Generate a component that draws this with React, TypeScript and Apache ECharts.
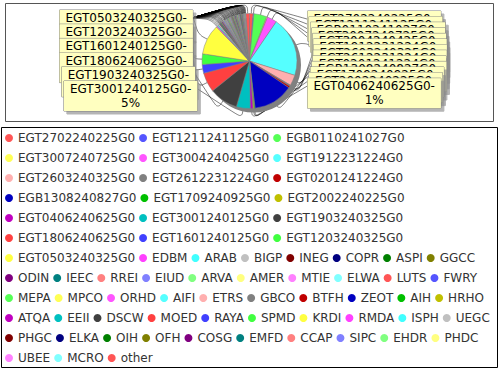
import React, { useEffect, useRef } from "react";
import * as echarts from "echarts";

const FONT = "DejaVu Sans";

const names = [
  "EGT2702240225G0", "EGT1211241125G0", "EGB0110241027G0", "EGT3007240725G0", "EGT3004240425G0",
  "EGT1912231224G0", "EGT2603240325G0", "EGT2612231224G0", "EGT0201241224G0", "EGB1308240827G0",
  "EGT1709240925G0", "EGT2002240225G0", "EGT0406240625G0", "EGT3001240125G0", "EGT1903240325G0",
  "EGT1806240625G0", "EGT1601240125G0", "EGT1203240325G0", "EGT0503240325G0",
  "EDBM", "ARAB", "BIGP", "INEG", "COPR", "ASPI", "GGCC",
  "ODIN", "IEEC", "RREI", "EIUD", "ARVA", "AMER", "MTIE", "ELWA", "LUTS", "FWRY",
  "MEPA", "MPCO", "ORHD", "AIFI", "ETRS", "GBCO", "BTFH", "ZEOT", "AIH", "HRHO",
  "ATQA", "EEII", "DSCW", "MOED", "RAYA", "SPMD", "KRDI", "RMDA", "ISPH", "UEGC",
  "PHGC", "ELKA", "OIH", "OFH", "COSG", "EMFD", "CCAP", "SIPC", "EHDR", "PHDC",
  "UBEE", "MCRO", "other",
];

const values = [
  1.2, 0.3, 4.4, 0.3, 3.3,
  20.3, 3.6, 0.4, 0.6, 13.6,
  0.3, 0.4, 0.9, 4.7, 9.7,
  6.6, 3.0, 3.6, 10.3,
  0.45, 0.4, 0.5, 0.2, 0.25, 0.3, 0.2,
  0.35, 0.2, 0.25, 0.4, 0.2, 0.15, 0.2, 0.25, 0.2, 0.15,
  0.3, 0.2, 0.2, 0.25, 0.15, 0.3, 0.2, 0.15, 0.25, 0.2,
  0.2, 0.15, 0.3, 0.2, 0.15, 0.25, 0.2, 0.15, 0.2, 0.2,
  0.15, 0.2, 0.25, 0.15, 0.2, 0.15, 0.2, 0.15, 0.2, 0.15,
  0.2, 0.15, 1.2,
];

// items per legend row
const legendRowSizes = [3, 3, 3, 3, 3, 3, 8, 10, 10, 10, 10, 3];

const palette = [
  "#FF5555", "#5555FF", "#55FF55", "#FFFF55", "#FF55FF", "#55FFFF", "#FFAFAF", "#808080",
  "#C00000", "#0000C0", "#00C000", "#C0C000", "#C000C0", "#00C0C0", "#404040",
  "#FF4040", "#4040FF", "#40FF40", "#FFFF40", "#FF40FF", "#40FFFF", "#C0C0C0",
  "#800000", "#000080", "#008000", "#808000", "#800080", "#008080",
  "#FF8080", "#8080FF", "#80FF80", "#FFFF80", "#FF80FF", "#80FFFF",
];

const CX = 249.5;
const CY = 61;
const R = 47.5;

export default function App() {
  const ref = useRef<HTMLDivElement>(null);

  useEffect(() => {
    const chart = echarts.init(ref.current!, null, { renderer: "svg" });
    const total = values.reduce((a, b) => a + b, 0);
    const colorOf = (i: number) => palette[i % palette.length];
    const fmt = (i: number) =>
      i >= 19 ? " " : `${names[i]}-\n${Math.round((values[i] / total) * 100)}%`;

    const legendData: string[] = [];
    let k = 0;
    legendRowSizes.forEach((n, r) => {
      for (let j = 0; j < n; j++) legendData.push(names[k++]);
      if (r < legendRowSizes.length - 1) legendData.push("");
    });

    const labelBase = {
      show: true,
      position: "outside",
      fontFamily: FONT,
      fontSize: 12,
      color: "#000",
      lineHeight: 14,
      align: "center",
      backgroundColor: "#FFFFC0",
      borderColor: "#808080",
      borderWidth: 0.5,
      padding: [1, 6],
      shadowColor: "rgba(140,140,140,0.65)",
      shadowBlur: 0,
      shadowOffsetX: 3,
      shadowOffsetY: 3,
      formatter: (p: any) => fmt(names.indexOf(p.name)),
    };
    const tinyLabel = {
      show: true,
      backgroundColor: "transparent",
      borderWidth: 0,
      shadowColor: "transparent",
      shadowOffsetX: 0,
      shadowOffsetY: 0,
      padding: 0,
    };
    const labelLine = {
      show: true,
      smooth: 0.35,
      lineStyle: { color: "#000", width: 0.5 },
    };
    const lineFrom = (pts: number[][], anchor: number[]) => {
      const p0 = pts[0];
      const dx = p0[0] - CX;
      const dy = p0[1] - CY;
      const l = Math.hypot(dx, dy) || 1;
      return [p0, [p0[0] + (dx / l) * 10, p0[1] + (dy / l) * 10], anchor];
    };

    const rev = names.map((_, i) => names.length - 1 - i);

    chart.setOption({
      animation: false,
      backgroundColor: "#fff",
      graphic: [
        {
          type: "rect",
          silent: true,
          z: 0,
          shape: { x: 5.5, y: 3.5, width: 488, height: 118 },
          style: { fill: "#fff", stroke: "#555", lineWidth: 1 },
        },
        {
          type: "rect",
          silent: true,
          z: 0,
          shape: { x: 1.5, y: 127.5, width: 496, height: 240 },
          style: { fill: "#fff", stroke: "#000", lineWidth: 1 },
        },
      ],
      legend: {
        data: legendData,
        left: 0,
        top: 125,
        width: 500,
        padding: 5,
        itemWidth: 8,
        itemHeight: 8,
        itemGap: 4,
        icon: "circle",
        selectedMode: false,
        itemStyle: { borderWidth: 0 },
        textStyle: { fontFamily: FONT, fontSize: 12, color: "#333", lineHeight: 16 },
      },
      series: [
        {
          type: "pie",
          name: "shadow",
          silent: true,
          center: [CX + 4, CY + 4],
          radius: R,
          label: { show: false },
          labelLine: { show: false },
          emphasis: { disabled: true },
          itemStyle: { color: "#808080", borderWidth: 0 },
          data: [{ name: "shadow", value: total }],
        },
        {
          type: "pie",
          name: "main",
          center: [CX, CY],
          radius: R,
          startAngle: 90,
          clockwise: true,
          avoidLabelOverlap: false,
          emphasis: { disabled: true },
          itemStyle: { borderColor: "#808080", borderWidth: 0.5 },
          label: labelBase,
          labelLine,
          data: names.map((n, i) => ({
            name: n,
            value: values[i],
            itemStyle: { color: colorOf(i) },
            label: { show: i <= 12 },
            labelLine: { show: i <= 12 },
          })),
          labelLayout: (p: any) => {
            const i = p.dataIndex;
            if (i > 12) return {};
            const w = p.labelRect.width;
            const left = 307 + 6 * Math.sin((Math.PI * i) / 12);
            const top = 11 + i * 5.6;
            return {
              x: left + w / 2,
              y: top,
              align: "center",
              verticalAlign: "top",
              labelLinePoints: p.labelLinePoints
                ? lineFrom(p.labelLinePoints, [left, top + 8])
                : undefined,
            };
          },
        },
        {
          type: "pie",
          name: "left",
          silent: true,
          center: [CX, CY],
          radius: R,
          startAngle: 90,
          clockwise: false,
          avoidLabelOverlap: false,
          emphasis: { disabled: true },
          itemStyle: { color: "rgba(0,0,0,0)", borderWidth: 0 },
          label: labelBase,
          labelLine,
          data: rev.map((i) => ({
            name: names[i],
            value: values[i],
            itemStyle: { color: "rgba(0,0,0,0)" },
            label: i >= 19 ? tinyLabel : { show: i >= 13 },
            labelLine: { show: i >= 13 },
          })),
          labelLayout: (p: any) => {
            const i = rev[p.dataIndex];
            if (i < 13) return {};
            if (i >= 19) {
              return {
                x: 195,
                y: 12,
                align: "left",
                verticalAlign: "top",
                labelLinePoints: p.labelLinePoints
                  ? lineFrom(p.labelLinePoints, [192, 18])
                  : undefined,
              };
            }
            const kk = 18 - i;
            const w = p.labelRect.width;
            const left = 59 + Math.max(0, kk - 3) * 2.2;
            const top = 10 + kk * 14.2;
            return {
              x: left + w / 2,
              y: top,
              align: "center",
              verticalAlign: "top",
              labelLinePoints: p.labelLinePoints
                ? lineFrom(p.labelLinePoints, [left + w, top + 8])
                : undefined,
            };
          },
        },
      ],
    });
    return () => chart.dispose();
  }, []);

  return (
    <div
      ref={ref}
      style={{ position: "fixed", left: 0, top: 0, width: 500, height: 370, background: "#fff" }}
    />
  );
}
